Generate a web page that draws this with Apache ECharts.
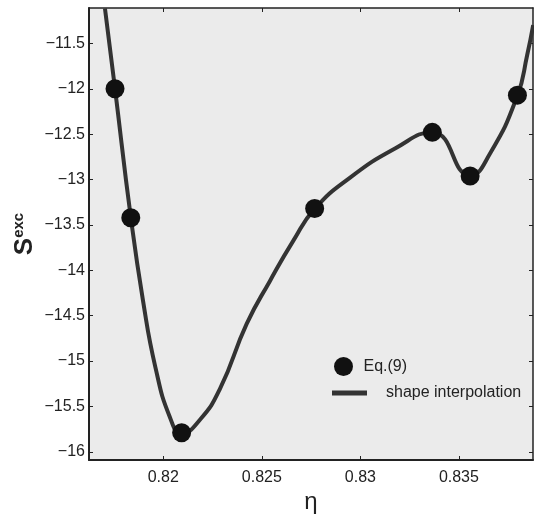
<!DOCTYPE html>
<html>
<head>
<meta charset="utf-8">
<script src="https://cdn.jsdelivr.net/npm/echarts@6/dist/echarts.min.js"></script>
<style>
    html, body { margin: 0; padding: 0; background: #fff; }
    #chart { width: 534px; height: 515px; }
</style>
</head>
<body>
<div id="chart"></div>
<script>
// 坐标轴刻度
const xTicks = [0.82, 0.825, 0.83, 0.835]
const yTicks = [-16, -15.5, -15, -14.5, -14, -13.5, -13, -12.5, -12, -11.5]

// Eq.(9) 计算点
const etaPoints = [0.81755, 0.81835, 0.82093, 0.82768, 0.83365, 0.83557, 0.83797]
const sPoints = [-12.0, -13.42, -15.79, -13.32, -12.48, -12.96, -12.07]

// shape interpolation 曲线
const etaCurve = [0.81704, 0.81755, 0.81835, 0.81897, 0.8196, 0.82034, 0.82093,
    0.82186, 0.82288, 0.82423, 0.82542, 0.8266, 0.82768,
    0.82948, 0.83176, 0.83365, 0.83557, 0.83658, 0.83797, 0.83846, 0.83877]
const sCurve = [-11.115, -12.0, -13.416, -14.334, -15.069, -15.621, -15.797,
    -15.646, -15.304, -14.591, -14.114, -13.673, -13.323,
    -12.978, -12.658, -12.478, -12.956, -12.713, -12.074, -11.633, -11.298]

const font = 'Liberation Sans, Arial, sans-serif'
const minus = v => String(+v.toFixed(3)).replace('-', '\u2212')

const mChart = echarts.init(document.getElementById('chart'))
const option = {
    animation: false,
    textStyle: { fontFamily: font },
    grid: {
        left: 89,
        top: 8,
        right: 1,
        bottom: 55,
        outerBoundsMode: 'none',
        show: true,
        backgroundColor: '#ebebeb',
        borderWidth: 0
    },
    legend: [{
        data: ['Eq.(9)'],
        left: 329,
        top: 352,
        itemWidth: 30,
        itemHeight: 19,
        icon: 'circle',
        textStyle: { fontSize: 16, color: '#222', fontFamily: font }
    }, {
        data: ['shape interpolation'],
        left: 327,
        top: 380,
        itemWidth: 35,
        itemHeight: 5,
        icon: 'rect',
        textStyle: { fontSize: 16, color: '#222', fontFamily: font, padding: [2, 0, 0, 14] }
    }],
    xAxis: [{
        type: 'value',
        position: 'bottom',
        min: 0.81623,
        max: 0.83876,
        name: 'η',
        nameLocation: 'middle',
        nameGap: 30,
        nameMoveOverlap: false,
        nameTextStyle: { fontSize: 24, color: '#222', fontFamily: font },
        axisLine: { lineStyle: { color: '#222', width: 2 } },
        axisTick: { inside: true, length: 4, customValues: xTicks, lineStyle: { color: '#222' } },
        axisLabel: { customValues: xTicks, formatter: minus, fontSize: 16, color: '#222', margin: 10 },
        splitLine: { show: false }
    }, {
        type: 'value',
        position: 'top',
        min: 0.81623,
        max: 0.83876,
        axisLine: { lineStyle: { color: '#222', width: 1.5 } },
        axisTick: { inside: true, length: 4, customValues: xTicks, lineStyle: { color: '#222' } },
        axisLabel: { show: false },
        splitLine: { show: false }
    }],
    yAxis: [{
        type: 'value',
        position: 'left',
        min: -16.09,
        max: -11.11,
        name: '{s|S}{e|exc}',
        nameLocation: 'middle',
        nameRotate: 90,
        nameGap: 50,
        nameMoveOverlap: false,
        nameTextStyle: {
            color: '#222',
            rich: {
                s: { fontSize: 26, fontWeight: 'bold', lineHeight: 28, fontFamily: font, color: '#222' },
                e: { fontSize: 15, fontWeight: 'bold', verticalAlign: 'top', fontFamily: font, color: '#222' }
            }
        },
        axisLine: { lineStyle: { color: '#222', width: 2 } },
        axisTick: { inside: true, length: 4, customValues: yTicks, lineStyle: { color: '#222' } },
        axisLabel: { customValues: yTicks, formatter: minus, fontSize: 16, color: '#222', margin: 4 },
        splitLine: { show: false }
    }, {
        type: 'value',
        position: 'right',
        min: -16.09,
        max: -11.11,
        axisLine: { lineStyle: { color: '#222', width: 1.5 } },
        axisTick: { inside: true, length: 4, customValues: yTicks, lineStyle: { color: '#222' } },
        axisLabel: { show: false },
        splitLine: { show: false }
    }],
    series: [{
        name: 'shape interpolation',
        type: 'line',
        data: etaCurve.map((x, i) => [x, sCurve[i]]),
        smooth: 0.5,
        showSymbol: false,
        symbol: 'none',
        clip: true,
        itemStyle: { color: '#333' },
        lineStyle: { color: '#333', width: 4 },
        z: 2
    }, {
        name: 'Eq.(9)',
        type: 'scatter',
        data: etaPoints.map((x, i) => [x, sPoints[i]]),
        symbol: 'circle',
        symbolSize: 19,
        itemStyle: { color: '#111', opacity: 1 },
        z: 3
    }]
}
mChart.setOption(option)
</script>
</body>
</html>
